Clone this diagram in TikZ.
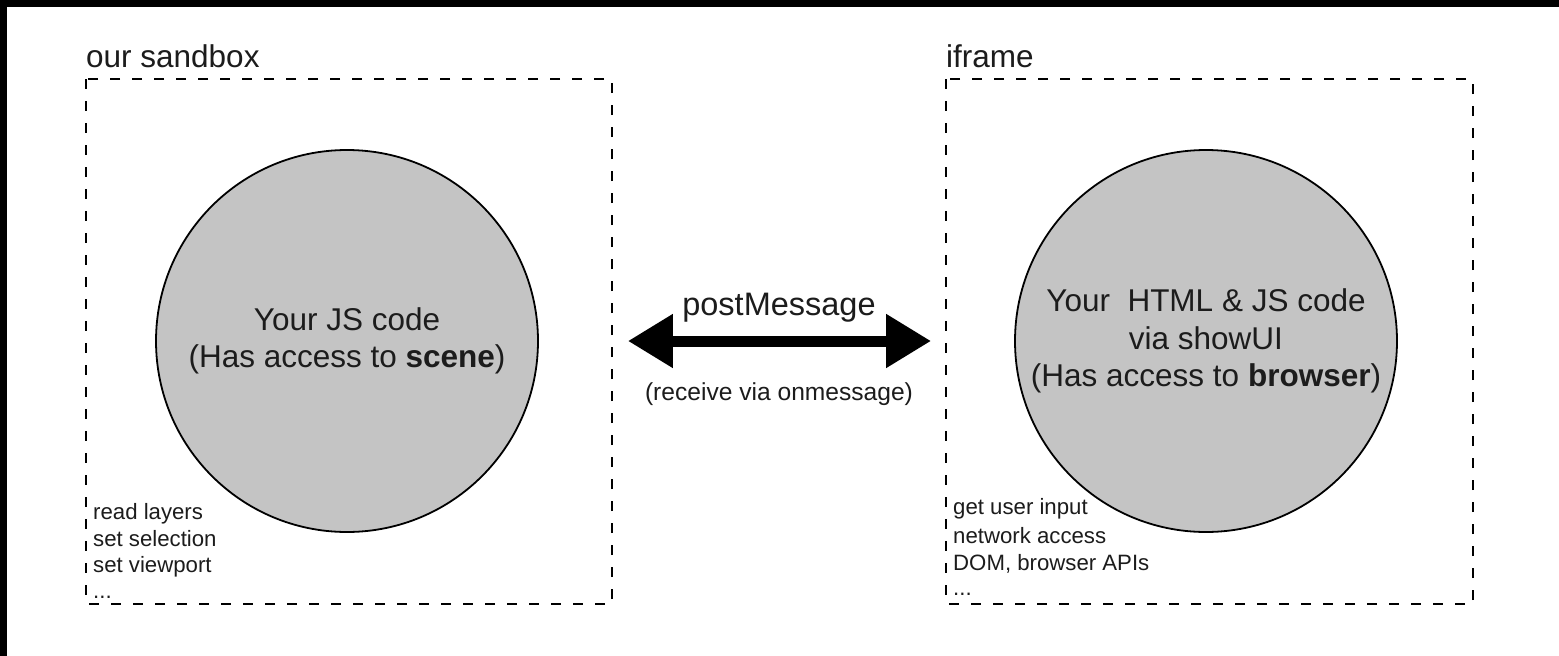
\documentclass[tikz,border=0pt]{standalone}
\usepackage{fontspec}
\setmainfont{Liberation Sans}
\usetikzlibrary{arrows.meta}
\definecolor{circfill}{RGB}{196,196,196}
\definecolor{ink}{RGB}{28,28,28}
\begin{document}
\begin{tikzpicture}[x=1pt,y=-1pt,
  zone/.style={draw=black, line width=2.5pt, dash pattern=on 10pt off 12pt},
  bubble/.style={circle, draw=black, line width=1.8pt, fill=circfill, minimum size=382pt, inner sep=0pt, align=center, text=ink, font=\fontsize{31.5}{37.5}\selectfont},
  title/.style={anchor=base west, inner sep=0pt, text=ink, font=\fontsize{31.5}{37}\selectfont},
  item/.style={anchor=base west, inner sep=0pt, text=ink, font=\fontsize{22.2}{26}\selectfont},
  lbl/.style={anchor=base, inner sep=0pt, text=ink},
  bigarrow/.style={line width=11pt, {Triangle[length=45pt,width=51pt]}-{Triangle[length=45pt,width=51pt]}}
]
\useasboundingbox (0,0) rectangle (1559,656);
\fill[white] (0,0) rectangle (1559,656);
\fill[black] (0,0) rectangle (1559,7);
\fill[black] (0,0) rectangle (7,656);

% zones
\draw[zone] (86,79) rectangle (612,604);
\draw[zone] (946,79) rectangle (1473,604);
\node[title] (tl) at (86,67) {our sandbox};
\node[title] (tr) at (946,67) {iframe};

% circles
\node[bubble] (js) at (347,341) {Your JS code\\(Has access to \textbf{scene})};
\node[bubble] (ui) at (1206,341) {Your\ \ HTML \& JS code\\via showUI\\(Has access to \textbf{browser})};

% arrow
\draw[bigarrow, shorten <=89pt, shorten >=83pt] (js.east) -- (ui.west);
\node[lbl, font=\fontsize{32.5}{37}\selectfont] (pm) at (779,315) {postMessage};
\node[lbl, font=\fontsize{24.6}{28}\selectfont] (om) at (779,400) {(receive via onmessage)};

% lists
\node[item] (l1) at (93,519) {read layers};
\node[item] (l2) at (93,546) {set selection};
\node[item] (l3) at (93,572) {set viewport};
\node[item] (l4) at (93,598) {...};
\node[item] (r1) at (953,514) {get user input};
\node[item] (r2) at (953,543) {network access};
\node[item] (r3) at (953,570) {DOM, browser APIs};
\node[item] (r4) at (953,595) {...};
\end{tikzpicture}
\end{document}
